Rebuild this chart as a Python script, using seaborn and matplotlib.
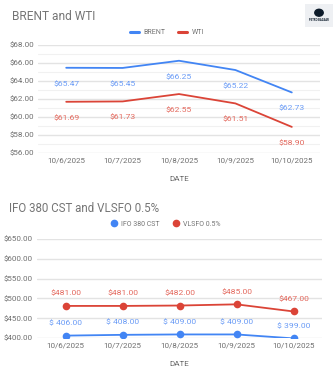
import matplotlib
matplotlib.use("Agg")
import matplotlib.pyplot as plt
import seaborn as sns
import pandas as pd
from matplotlib.lines import Line2D
from matplotlib.patches import Rectangle, Circle

dates = ["10/6/2025", "10/7/2025", "10/8/2025", "10/9/2025", "10/10/2025"]
brent = [65.47, 65.45, 66.25, 65.22, 62.73]
wti = [61.69, 61.73, 62.55, 61.51, 58.90]
ifo = [406.00, 408.00, 409.00, 409.00, 399.00]
vlsfo = [481.00, 481.00, 482.00, 485.00, 467.00]
top_title = "BRENT and WTI"
bot_title = "IFO 380 CST and VLSFO 0.5%"

BLUE = "#4285F4"
RED = "#DB4437"
GRID = "#e3e3e3"
MINOR = "#f1f1f1"
TXT = "#757575"

sns.set_theme(style="white")
plt.rcParams["font.family"] = ["Roboto", "DejaVu Sans"]

W, H = 333, 378
fig = plt.figure(figsize=(W / 100, H / 100), dpi=100)
fig.patch.set_facecolor("white")


def px_axes(x0, y0, x1, y1):
    return fig.add_axes([x0 / W, 1 - y1 / H, (x1 - x0) / W, (y1 - y0) / H])


def style(ax, ymin, ymax, step, minor, fmt):
    ax.set_xlim(-0.5, len(dates) - 0.5)
    ax.set_ylim(ymin, ymax)
    ticks = [ymin + i * step for i in range(int(round((ymax - ymin) / step)) + 1)]
    ax.set_yticks(ticks)
    ax.set_yticklabels([fmt(t) for t in ticks])
    if minor:
        ax.set_yticks([t + step / 2 for t in ticks[:-1]], minor=True)
        ax.grid(axis="y", which="minor", color=MINOR, lw=0.8)
    ax.grid(axis="y", which="major", color=GRID, lw=1.0)
    ax.grid(axis="x", visible=False)
    ax.set_axisbelow(True)
    ax.set_xticks(range(len(dates)))
    ax.set_xticklabels(dates)
    ax.tick_params(axis="both", length=0, labelsize=5.8, labelcolor="#6f6f6f", pad=3)
    for s in ax.spines.values():
        s.set_visible(False)
    ax.set_xlabel("DATE", fontsize=5.8, color="#666666", labelpad=9)
    ax.set_ylabel("")
    if ax.get_legend():
        ax.get_legend().remove()


# ---- top chart
df1 = pd.DataFrame({"DATE": dates * 2, "price": brent + wti,
                    "series": ["BRENT"] * 5 + ["WTI"] * 5})
ax1 = px_axes(38, 45, 320, 153)
sns.lineplot(data=df1, x="DATE", y="price", hue="series", palette=[BLUE, RED],
             lw=1.3, ax=ax1, sort=False)
style(ax1, 56, 68, 2, True, lambda v: f"${v:.2f}")
for i, v in enumerate(brent):
    ax1.annotate(f"${v:.2f}", (i, v), xytext=(0, -11.5), textcoords="offset points",
                 ha="center", va="center", fontsize=6.1, color="#6b9cf6")
for i, v in enumerate(wti):
    ax1.annotate(f"${v:.2f}", (i, v), xytext=(0, -11.5), textcoords="offset points",
                 ha="center", va="center", fontsize=6.1, color="#e46a5f")
fig.text(12 / W, 1 - 16 / H, top_title, fontsize=8.6, color=TXT, va="center")
h1 = [Line2D([], [], color=BLUE, lw=2.2), Line2D([], [], color=RED, lw=2.2)]
fig.legend(h1, ["BRENT", "WTI"], loc="center", bbox_to_anchor=(167 / W, 1 - 33 / H),
           ncol=2, frameon=False, fontsize=5, labelcolor=TXT, handlelength=1.3,
           handletextpad=0.7, columnspacing=1.8)

# ---- bottom chart
df2 = pd.DataFrame({"DATE": dates * 2, "price": ifo + vlsfo,
                    "series": ["IFO 380 CST"] * 5 + ["VLSFO 0.5%"] * 5})
ax2 = px_axes(37, 239, 322, 338)
sns.lineplot(data=df2, x="DATE", y="price", hue="series", palette=[BLUE, RED],
             lw=1.3, marker="o", markersize=5.5, markeredgewidth=0, ax=ax2, sort=False)
style(ax2, 400, 650, 50, False, lambda v: f"${v:.2f}")
for i, v in enumerate(ifo):
    ax2.annotate(f"$ {v:.2f}", (i, v), xytext=(0, 9), textcoords="offset points",
                 ha="center", va="center", fontsize=6.1, color="#6b9cf6",
                 annotation_clip=False)
for i, v in enumerate(vlsfo):
    ax2.annotate(f"${v:.2f}", (i, v), xytext=(0, 9), textcoords="offset points",
                 ha="center", va="center", fontsize=6.1, color="#e46a5f")
fig.text(9 / W, 1 - 208 / H, bot_title, fontsize=8.3, color=TXT, va="center")
h2 = [Line2D([], [], color=BLUE, lw=0, marker="o", markersize=4.5),
      Line2D([], [], color=RED, lw=0, marker="o", markersize=4.5)]
fig.legend(h2, ["IFO 380 CST", "VLSFO 0.5%"], loc="center",
           bbox_to_anchor=(166 / W, 1 - 224 / H), ncol=2, frameon=False, fontsize=5,
           labelcolor=TXT, handlelength=0.8, handletextpad=0.6, columnspacing=2.0)

# ---- logo
lax = px_axes(305, 4, 333, 27)
lax.set_xlim(0, 1)
lax.set_ylim(0, 1)
lax.axis("off")
lax.add_patch(Rectangle((0, 0), 1, 1, color="#eef0f3", transform=lax.transAxes))
lax.add_patch(Circle((0.5, 0.62), 0.15, color="#0d1b2a", transform=lax.transAxes))
lax.text(0.5, 0.3, "PETRO BAZAAR", fontsize=2.0, ha="center", va="center",
         color="#0d1b2a", fontweight="bold")

fig.savefig("out.png", dpi=100, facecolor="white")
